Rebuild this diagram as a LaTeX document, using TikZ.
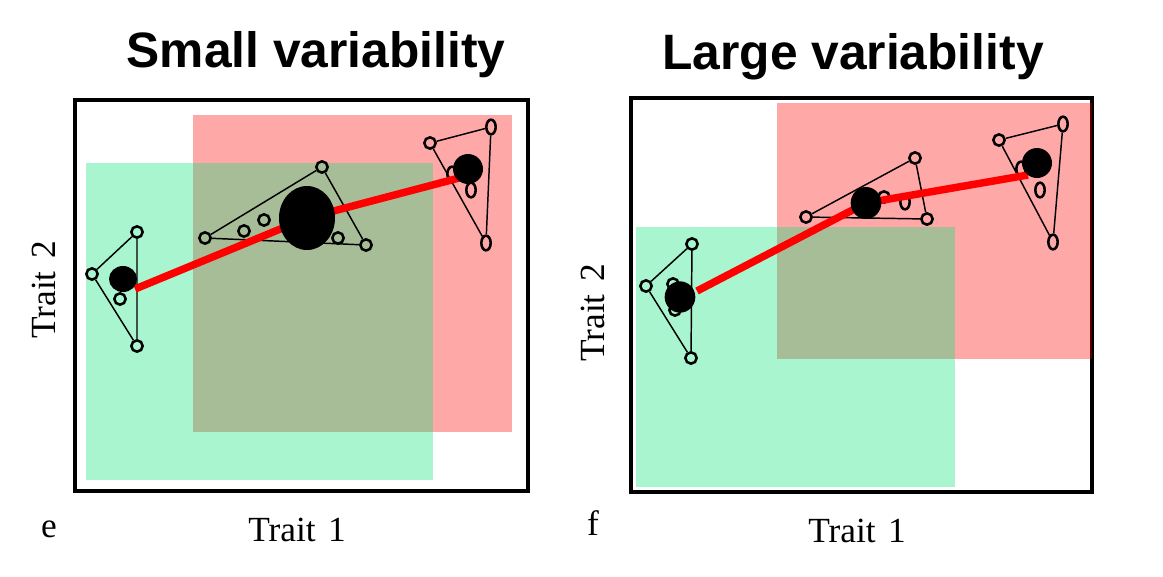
\documentclass[tikz,border=0pt]{standalone}
\usepackage{fontspec}
\setmainfont{Liberation Serif}
\newfontfamily\headfont{Liberation Sans}
\usetikzlibrary{shapes.geometric}
\definecolor{vgreen}{RGB}{13,227,124}

\begin{document}
\begin{tikzpicture}[x=0.75pt,y=-0.75pt,
  panel/.style={draw=black,line width=2.6pt},
  redveil/.style={fill=red,fill opacity=0.34},
  greenveil/.style={fill=vgreen,fill opacity=0.36},
  pt/.style={draw=black,line width=1.9pt,ellipse,inner sep=0pt,minimum width=8.5pt,minimum height=8.5pt},
  tall/.style={pt,minimum width=7pt,minimum height=11pt},
  mean/.style={fill=black,ellipse,inner sep=0pt},
  edge/.style={black,line width=1.1pt},
  traj/.style={red,line width=5.6pt},
  title/.style={font=\headfont\bfseries\fontsize{37.3}{40}\selectfont,anchor=base},
  lab/.style={font=\fontsize{26.5}{28}\selectfont,anchor=base}]

\useasboundingbox (0,0) rectangle (1163,576);

% panel e: small variability
\draw[panel] (75,100) rectangle (528,491);
\fill[redveil] (193,115) rectangle (512,432);
\fill[greenveil] (86,163) rectangle (433,480);

\node[pt] (a1) at (92,274) {};
\node[pt] (a2) at (137,232) {};
\node[pt] (a3) at (137,346) {};
\node[pt] (a4) at (120,299) {};
\draw[edge] (a1)--(a2)--(a3)--(a1);

\node[pt] (b1) at (205,238) {};
\node[pt] (b2) at (322,167) {};
\node[pt] (b3) at (366,245) {};
\node[pt] (b4) at (244,231) {};
\node[pt] (b5) at (264,220) {};
\node[pt] (b6) at (338,238) {};
\draw[edge] (b1)--(b2)--(b3)--(b1);

\node[pt] (c1) at (430,143) {};
\node[tall] (c2) at (491,127) {};
\node[tall] (c3) at (486,243) {};
\node[tall] (c4) at (452,174) {};
\node[tall] (c5) at (471,190) {};
\draw[edge] (c1)--(c2)--(c3)--(c1);

\coordinate (s1) at (135,289);
\coordinate (k1) at (307,218);
\coordinate (e1) at (459,178);
\draw[traj] (s1) -- (k1) -- (e1);

\node[mean,minimum width=21pt,minimum height=19.5pt] (m1) at (123,279) {};
\node[mean,minimum width=42pt,minimum height=48pt] (m2) at (k1) {};
\node[mean,minimum width=22.5pt,minimum height=22.5pt] (m3) at (468,169) {};

% panel f: large variability
\draw[panel] (631,98) rectangle (1092,492);
\fill[redveil] (777,103) rectangle (1092,359);
\fill[greenveil] (636,227) rectangle (955,487);

\node[pt] (d1) at (646,286) {};
\node[pt] (d2) at (692,244) {};
\node[pt] (d3) at (691,358) {};
\node[pt] (d4) at (673,284) {};
\node[pt] (d5) at (675,310) {};
\draw[edge] (d1)--(d2)--(d3)--(d1);

\node[pt] (f1) at (806,217) {};
\node[pt] (f2) at (915,158) {};
\node[pt] (f3) at (927,219) {};
\node[pt] (f4) at (884,197) {};
\node[tall] (f5) at (905,202) {};
\draw[edge] (f1)--(f2)--(f3)--(f1);

\node[pt] (g1) at (999,140) {};
\node[tall] (g2) at (1063,124) {};
\node[tall] (g3) at (1053,242) {};
\node[tall] (g4) at (1021,169) {};
\node[tall] (g5) at (1040,190) {};
\draw[edge] (g1)--(g2)--(g3)--(g1);

\coordinate (s2) at (697,291);
\coordinate (k2) at (866,203);
\coordinate (e2) at (1028,175);
\draw[traj] (s2) -- (k2) -- (e2);

\node[mean,minimum width=23pt,minimum height=23.5pt] (m4) at (680,297) {};
\node[mean,minimum width=23pt,minimum height=24pt] (m5) at (k2) {};
\node[mean,minimum width=22.5pt,minimum height=22.5pt] (m6) at (1037,163) {};

% titles and axis labels
\node[title] (t1) at (316,67) {Small variability};
\node[title] (t2) at (853,69) {Large variability};
\node[lab] (x1) at (297,541) {Trait\hspace{.35em}1};
\node[lab] (x2) at (857,542) {Trait\hspace{.35em}1};
\node[lab,anchor=center,rotate=90] (y1) at (44,290) {Trait\hspace{.35em}2};
\node[lab,anchor=center,rotate=90] (y2) at (593,313) {Trait\hspace{.35em}2};
\node[lab] (e) at (49,537) {e};
\node[lab] (f) at (593,535) {f};

\end{tikzpicture}
\end{document}
